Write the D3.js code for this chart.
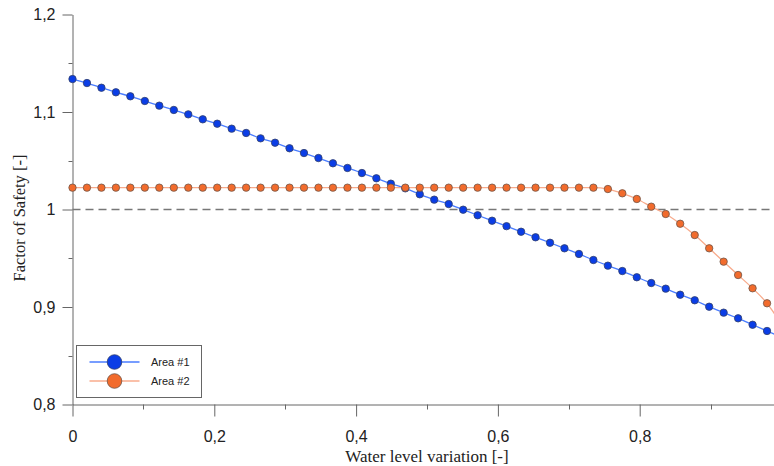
<!DOCTYPE html>
<html>
<head>
<meta charset="utf-8">
<script src="https://cdn.jsdelivr.net/npm/d3@7"></script>
<style>
  body { margin: 0; background: #fff; }
  svg { display: block; }
  .axis path, .axis line { stroke: #666; }
  .axisTitle { font-family: "Liberation Serif", "Times New Roman", serif; fill: #222; }
</style>
</head>
<body>
<div class="chart"></div>
<script>
var svgWidth = 774;
var svgHeight = 466;

// water level steps (x)
var waterLevel = [0, 0.0204, 0.0408, 0.0612, 0.0816, 0.1020, 0.1224, 0.1429, 0.1633, 0.1837,
  0.2041, 0.2245, 0.2449, 0.2653, 0.2857, 0.3061, 0.3265, 0.3469, 0.3673, 0.3878,
  0.4082, 0.4286, 0.4490, 0.4694, 0.4898, 0.5102, 0.5306, 0.5510, 0.5714, 0.5918,
  0.6122, 0.6327, 0.6531, 0.6735, 0.6939, 0.7143, 0.7347, 0.7551, 0.7755, 0.7959,
  0.8163, 0.8367, 0.8571, 0.8776, 0.8980, 0.9184, 0.9388, 0.9592, 0.9796, 1.0];

// factor of safety, Area #1
var area1 = [1.1338, 1.1297, 1.1249, 1.1202, 1.1161, 1.1113, 1.1065, 1.1021, 1.0976, 1.0925,
  1.0880, 1.0829, 1.0785, 1.0730, 1.0685, 1.0628, 1.0579, 1.0528, 1.0474, 1.0426,
  1.0374, 1.0320, 1.0265, 1.0217, 1.0156, 1.0101, 1.0056, 0.9998, 0.9941, 0.9885,
  0.9829, 0.9772, 0.9715, 0.9659, 0.9602, 0.9544, 0.9482, 0.9424, 0.9369, 0.9305,
  0.9246, 0.9188, 0.9126, 0.9069, 0.9003, 0.8942, 0.8884, 0.8818, 0.8754, 0.8690];

// factor of safety, Area #2
var area2 = [1.0224, 1.0224, 1.0224, 1.0224, 1.0224, 1.0224, 1.0224, 1.0224, 1.0224, 1.0224,
  1.0224, 1.0224, 1.0224, 1.0224, 1.0224, 1.0224, 1.0224, 1.0224, 1.0224, 1.0224,
  1.0224, 1.0224, 1.0224, 1.0224, 1.0224, 1.0224, 1.0224, 1.0224, 1.0224, 1.0224,
  1.0224, 1.0224, 1.0224, 1.0224, 1.0224, 1.0224, 1.0224, 1.0210, 1.0166, 1.0108,
  1.0029, 0.9954, 0.9854, 0.9738, 0.9602, 0.9465, 0.9328, 0.9192, 0.9038, 0.8820];

var seriesNames = ["Area #1", "Area #2"];
var xMajorTicks = [0, 0.2, 0.4, 0.6, 0.8];
var xMinorTicks = [0.1, 0.3, 0.5, 0.7, 0.9];
var yMajorTicks = [0.8, 0.9, 1.0, 1.1, 1.2];
var yMinorTicks = [0.85, 0.95, 1.05, 1.15];
var limitFS = 1.0;

var fmt = function(d) { return String(+d.toFixed(1)).replace(".", ","); };

var svg = d3.select(".chart")
  .append("svg")
  .attr("width", svgWidth)
  .attr("height", svgHeight);

// plot extends past the right edge (cropped like the original)
var xScale = d3.scaleLinear().domain([0, 1]).range([72.5, 781.5]);
var yScale = d3.scaleLinear().domain([0.8, 1.2]).range([404.5, 14.5]);

// axes
var xAxisG = svg.append("g")
  .attr("class", "axis")
  .attr("transform", "translate(0, 404.5)")
  .call(d3.axisBottom(xScale).tickValues(xMajorTicks).tickSize(12).tickSizeOuter(0).tickPadding(14).tickFormat(fmt));

var yAxisG = svg.append("g")
  .attr("class", "axis")
  .attr("transform", "translate(72.5, 0)")
  .call(d3.axisLeft(yScale).tickValues(yMajorTicks).tickSize(10).tickSizeOuter(0).tickPadding(7).tickFormat(fmt));

svg.selectAll(".axis text")
  .attr("fill", "#222")
  .style("font-family", "'Liberation Sans', Arial, sans-serif")
  .style("font-size", "16px");

// minor ticks
svg.append("g").selectAll("line")
  .data(xMinorTicks)
  .enter()
  .append("line")
  .attr("x1", d => Math.round(xScale(d)) + 0.5)
  .attr("x2", d => Math.round(xScale(d)) + 0.5)
  .attr("y1", 404.5)
  .attr("y2", 409.5)
  .attr("stroke", "#666");

svg.append("g").selectAll("line")
  .data(yMinorTicks)
  .enter()
  .append("line")
  .attr("x1", 68.5)
  .attr("x2", 72.5)
  .attr("y1", d => Math.round(yScale(d)) + 0.5)
  .attr("y2", d => Math.round(yScale(d)) + 0.5)
  .attr("stroke", "#666");

// safety limit
svg.append("line")
  .attr("x1", xScale(0)).attr("x2", svgWidth)
  .attr("y1", yScale(limitFS)).attr("y2", yScale(limitFS))
  .attr("stroke", "#777")
  .attr("stroke-width", 1.5)
  .attr("stroke-dasharray", "8,5");

// series
var series = [
  { name: seriesNames[0], values: area1, line: "#4a7dff", fill: "#0a3de6", stroke: "#33406a" },
  { name: seriesNames[1], values: area2, line: "#f8ab8c", fill: "#f26b2c", stroke: "#6e5549" }
];

var lineGen = d3.line()
  .x(function(d, i) { return xScale(waterLevel[i]); })
  .y(function(d) { return yScale(d); })
  .curve(d3.curveMonotoneX);

series.forEach(function(s) {
  svg.append("path")
    .datum(s.values)
    .attr("fill", "none")
    .attr("stroke", s.line)
    .attr("stroke-width", 1.3)
    .attr("d", lineGen);
});

series.forEach(function(s) {
  svg.append("g").selectAll("circle")
    .data(s.values)
    .enter()
    .append("circle")
    .attr("cx", function(d, i) { return xScale(waterLevel[i]); })
    .attr("cy", function(d) { return yScale(d); })
    .attr("r", 3.7)
    .attr("fill", s.fill)
    .attr("stroke", s.stroke)
    .attr("stroke-width", 0.8);
});

// legend
var legend = svg.append("g").attr("transform", "translate(76.5, 345.5)");
legend.append("rect")
  .attr("width", 125)
  .attr("height", 52)
  .attr("fill", "#fff")
  .attr("stroke", "#666")
  .attr("stroke-width", 1);

series.forEach(function(s, i) {
  var ly = 16.5 + i * 19;
  legend.append("line")
    .attr("x1", 13).attr("x2", 63)
    .attr("y1", ly).attr("y2", ly)
    .attr("stroke", s.line)
    .attr("stroke-width", 1.3);
  legend.append("circle")
    .attr("cx", 38).attr("cy", ly)
    .attr("r", 7.3)
    .attr("fill", s.fill)
    .attr("stroke", s.stroke)
    .attr("stroke-width", 0.8);
  legend.append("text")
    .attr("x", 74.5).attr("y", ly + 4)
    .style("font-family", "'Liberation Sans', Arial, sans-serif")
    .style("font-size", "11px")
    .attr("fill", "#222")
    .text(s.name);
});

// axis titles
svg.append("text")
  .attr("class", "axisTitle")
  .attr("x", (xScale(0) + xScale(1)) / 2)
  .attr("y", 461.5)
  .attr("text-anchor", "middle")
  .style("font-size", "17px")
  .text("Water level variation [-]");

svg.append("text")
  .attr("class", "axisTitle")
  .attr("transform", "translate(24.5, 218) rotate(-90)")
  .attr("text-anchor", "middle")
  .style("font-size", "16.5px")
  .text("Factor of Safety [-]");
</script>
</body>
</html>
